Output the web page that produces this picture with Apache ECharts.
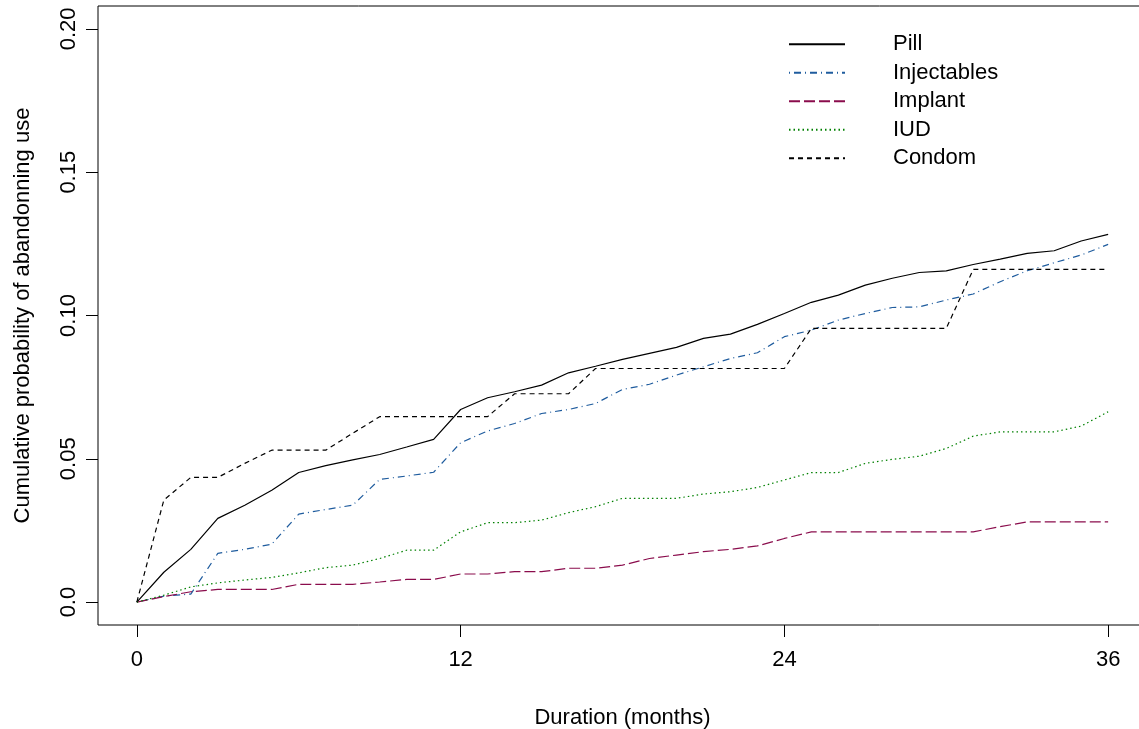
<!DOCTYPE html>
<html>
<head>
<meta charset="utf-8">
<script src="https://cdn.jsdelivr.net/npm/echarts@6/dist/echarts.min.js"></script>
<style>
  html, body { margin: 0; padding: 0; background: #fff; }
  #chart { width: 1139px; height: 729px; }
</style>
</head>
<body>
<div id="chart"></div>
<script>
// months 0..36
const months = Array.from({ length: 37 }, (_, i) => i)

const pill = [0, 0.0104, 0.0184, 0.0292, 0.0338, 0.039, 0.0452, 0.0476, 0.0496, 0.0515, 0.0541, 0.0568,
  0.0672, 0.0713, 0.0734, 0.0757, 0.080, 0.0823, 0.0847, 0.0868, 0.0889, 0.092, 0.0935, 0.0969,
  0.1007, 0.1046, 0.1071, 0.1106, 0.113, 0.115, 0.1156, 0.1178, 0.1197, 0.1217, 0.1226, 0.126, 0.1283]
const injectables = [0, 0.0021, 0.0028, 0.017, 0.0184, 0.0202, 0.0307, 0.0323, 0.0338, 0.0428, 0.044, 0.0453,
  0.0556, 0.0597, 0.0623, 0.0658, 0.0672, 0.0693, 0.0742, 0.076, 0.0792, 0.0821, 0.085, 0.087,
  0.0926, 0.0949, 0.0984, 0.1007, 0.1028, 0.103, 0.1054, 0.1075, 0.1118, 0.1156, 0.1184, 0.1211, 0.1248]
const implant = [0, 0.0019, 0.0036, 0.0044, 0.0044, 0.0044, 0.0062, 0.0062, 0.0062, 0.007, 0.0079, 0.0079,
  0.0098, 0.0098, 0.0106, 0.0106, 0.0118, 0.0118, 0.0129, 0.0152, 0.0164, 0.0176, 0.0184, 0.0196,
  0.0222, 0.0245, 0.0245, 0.0245, 0.0245, 0.0245, 0.0245, 0.0245, 0.0263, 0.028, 0.028, 0.028, 0.028]
const iud = [0, 0.0024, 0.0053, 0.0067, 0.0077, 0.0086, 0.0102, 0.012, 0.0129, 0.0152, 0.0181, 0.0181,
  0.0245, 0.0277, 0.0277, 0.0286, 0.0312, 0.0333, 0.0362, 0.0362, 0.0362, 0.0377, 0.0385, 0.04,
  0.0426, 0.0452, 0.0452, 0.0484, 0.0498, 0.0509, 0.0536, 0.0579, 0.0594, 0.0594, 0.0594, 0.0614, 0.0664]
const condom = [0, 0.0356, 0.0435, 0.0435, 0.0484, 0.053, 0.053, 0.053, 0.0589, 0.0647, 0.0647, 0.0647,
  0.0647, 0.0647, 0.0727, 0.0727, 0.0727, 0.0815, 0.0815, 0.0815, 0.0815, 0.0815, 0.0815, 0.0815,
  0.0815, 0.0955, 0.0955, 0.0955, 0.0955, 0.0955, 0.0955, 0.1161, 0.1161, 0.1161, 0.1161, 0.1161, 0.1161]

const xTicks = [0, 12, 24, 36]
const yTicks = [0, 0.05, 0.1, 0.15, 0.2]
const yTickLabels = ['0.0', '0.05', '0.10', '0.15', '0.20']

const font = 'Liberation Sans, Arial, sans-serif'

const pairs = arr => months.map((m, i) => [m, arr[i]])

const makeLine = (name, arr, color, dash) => ({
  name,
  type: 'line',
  data: pairs(arr),
  symbol: 'none',
  silent: true,
  animation: false,
  itemStyle: { color },
  lineStyle: { color, width: 1.2, type: dash }
})

const chart = echarts.init(document.getElementById('chart'))

chart.setOption({
  backgroundColor: '#fff',
  animation: false,
  textStyle: { fontFamily: font },
  grid: {
    left: 98,
    top: 6,
    width: 1049,
    height: 619,
    outerBoundsMode: 'none',
    containLabel: false,
    show: true,
    borderColor: '#000',
    borderWidth: 1
  },
  legend: {
    orient: 'vertical',
    left: 783,
    top: 25,
    itemWidth: 56,
    itemHeight: 14,
    itemGap: 0,
    itemStyle: { opacity: 0 },
    textStyle: {
      fontFamily: font,
      fontSize: 22,
      color: '#000',
      lineHeight: 28.5,
      padding: [0, 0, 0, 43]
    },
    data: ['Pill', 'Injectables', 'Implant', 'IUD', 'Condom']
  },
  xAxis: {
    type: 'value',
    min: -1.44,
    max: 37.44,
    name: 'Duration (months)',
    nameLocation: 'middle',
    nameGap: 82,
    nameTextStyle: { fontFamily: font, fontSize: 22, color: '#000' },
    axisLine: { show: false, onZero: false },
    splitLine: { show: false },
    axisTick: { show: true, length: 12, lineStyle: { color: '#000' }, customValues: xTicks },
    axisLabel: {
      fontFamily: font,
      fontSize: 22,
      color: '#000',
      margin: 24,
      customValues: xTicks
    }
  },
  yAxis: {
    type: 'value',
    min: -0.008,
    max: 0.208,
    name: 'Cumulative probability of abandonning use',
    nameLocation: 'middle',
    nameGap: 64,
    nameTextStyle: { fontFamily: font, fontSize: 22, color: '#000' },
    axisLine: { show: false, onZero: false },
    splitLine: { show: false },
    axisTick: { show: true, length: 12, lineStyle: { color: '#000' }, customValues: yTicks },
    axisLabel: {
      fontFamily: font,
      fontSize: 22,
      color: '#000',
      rotate: 90,
      margin: 18,
      customValues: yTicks,
      formatter: v => {
        const i = yTicks.findIndex(t => Math.abs(t - v) < 1e-9)
        return i >= 0 ? yTickLabels[i] : ''
      }
    }
  },
  series: [
    makeLine('Pill', pill, '#000000', 'solid'),
    makeLine('Injectables', injectables, '#1f5c9e', [1, 4, 7, 4]),
    makeLine('Implant', implant, '#8a0c4c', [11, 4]),
    makeLine('IUD', iud, '#008000', [1.5, 3]),
    makeLine('Condom', condom, '#000000', [5, 4])
  ]
})

window.addEventListener('resize', () => chart.resize())
</script>
</body>
</html>
